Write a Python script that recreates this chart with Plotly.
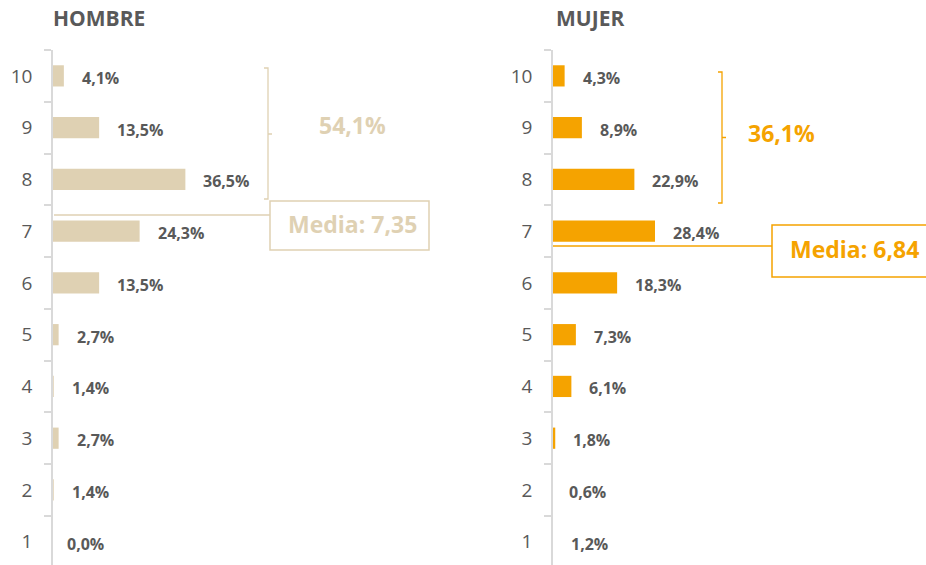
import plotly.graph_objects as go

W, H = 926, 565

categories = ["1", "2", "3", "4", "5", "6", "7", "8", "9", "10"]
hombre = [0.0, 1.4, 2.7, 1.4, 2.7, 13.5, 24.3, 36.5, 13.5, 4.1]
mujer = [1.2, 0.6, 1.8, 6.1, 7.3, 18.3, 28.4, 22.9, 8.9, 4.3]
panel_titles = ["HOMBRE", "MUJER"]
top_share = ["54,1%", "36,1%"]
media_labels = ["Media: 7,35", "Media: 6,84"]

BEIGE = "#DFD1B3"
ORANGE = "#F5A300"
GREY = "#595959"
AXIS = "#D9D9D9"
FONT = "Open Sans"

XMIN = 1.2
PX_PER_UNIT = 3.75
LABEL_GAP = 16


def px(x):
    return x / W


def py(y):
    return 1 - y / H


def fmt(v):
    return f"{v:.1f}".replace(".", ",") + "%"


fig = go.Figure()

panels = [
    dict(vals=hombre, color=BEIGE, xa="x", ya="y"),
    dict(vals=mujer, color=ORANGE, xa="x2", ya="y2"),
]

for p in panels:
    fig.add_trace(go.Bar(
        x=p["vals"], y=categories, orientation="h",
        marker=dict(color=p["color"], line=dict(width=0)),
        width=0.41, xaxis=p["xa"], yaxis=p["ya"], hoverinfo="skip",
        showlegend=False,
    ))
    for i, v in enumerate(p["vals"]):
        # values below the axis start are anchored at the axis start and shifted
        anchor = max(v, XMIN)
        shift = LABEL_GAP + (v - anchor) * PX_PER_UNIT
        fig.add_annotation(
            x=anchor, y=i, xref=p["xa"], yref=p["ya"], text=fmt(v),
            xanchor="left", yanchor="middle", xshift=shift, yshift=-2,
            showarrow=False,
            font=dict(family=FONT, size=16, color=GREY, weight="bold"),
        )

yax = dict(
    type="category", categoryorder="array", categoryarray=categories,
    range=[-0.45, 9.5], domain=[0, 1 - 50 / H], automargin=False,
    showline=True, linecolor=AXIS, linewidth=1.5,
    ticks="outside", tickson="boundaries", ticklen=7, tickcolor=AXIS, tickwidth=1.5,
    showgrid=False, zeroline=False, ticklabelstandoff=15,
    tickfont=dict(family=FONT, size=19, color=GREY), fixedrange=True,
)

fig.update_layout(
    width=W, height=H,
    margin=dict(l=0, r=0, t=0, b=0),
    paper_bgcolor="white", plot_bgcolor="white",
    xaxis=dict(domain=[px(53), px(460)], range=[XMIN, XMIN + (460 - 53) / PX_PER_UNIT],
               visible=False, fixedrange=True),
    xaxis2=dict(domain=[px(553), px(926)], range=[XMIN, XMIN + (926 - 553) / PX_PER_UNIT],
                visible=False, fixedrange=True),
    yaxis=dict(yax, anchor="x"),
    yaxis2=dict(yax, anchor="x2"),
)

# panel titles
for t, x in zip(panel_titles, [51, 554]):
    fig.add_annotation(
        x=px(x), y=py(18), xref="paper", yref="paper", text=t,
        xanchor="left", yanchor="middle", showarrow=False,
        font=dict(family=FONT, size=21, color=GREY, weight="bold"),
    )

# brackets
brackets = [
    dict(x=268, y0=68, y1=199, ym=134, color=BEIGE, tx=352, ty=125),
    dict(x=722, y0=72, y1=203, ym=137.5, color=ORANGE, tx=781, ty=133),
]
for b, lab in zip(brackets, top_share):
    path = (f"M {px(b['x'] - 4)},{py(b['y0'])} L {px(b['x'])},{py(b['y0'])} "
            f"L {px(b['x'])},{py(b['y1'])} L {px(b['x'] - 4)},{py(b['y1'])} "
            f"M {px(b['x'])},{py(b['ym'])} L {px(b['x'] + 4)},{py(b['ym'])}")
    fig.add_shape(type="path", path=path, xref="paper", yref="paper",
                  line=dict(color=b["color"], width=1.3))
    fig.add_annotation(
        x=px(b["tx"]), y=py(b["ty"]), xref="paper", yref="paper", text=lab,
        xanchor="center", yanchor="middle", showarrow=False,
        font=dict(family=FONT, size=23, color=b["color"], weight="bold"),
    )

# mean lines and boxes
means = [
    dict(lx0=54, lx1=270, ly=215, bx0=270, bx1=429, by0=201, by1=250, color=BEIGE, tx=352, ty=224),
    dict(lx0=553, lx1=772, ly=246, bx0=772, bx1=940, by0=225, by1=277, color=ORANGE, tx=854, ty=249),
]
for m, lab in zip(means, media_labels):
    fig.add_shape(type="line", xref="paper", yref="paper",
                  x0=px(m["lx0"]), x1=px(m["lx1"]), y0=py(m["ly"]), y1=py(m["ly"]),
                  line=dict(color=m["color"], width=1.3))
    fig.add_shape(type="rect", xref="paper", yref="paper",
                  x0=px(m["bx0"]), x1=px(m["bx1"]), y0=py(m["by0"]), y1=py(m["by1"]),
                  line=dict(color=m["color"], width=1.5), fillcolor="white")
    fig.add_annotation(
        x=px(m["tx"]), y=py(m["ty"]), xref="paper", yref="paper", text=lab,
        xanchor="center", yanchor="middle", showarrow=False,
        font=dict(family=FONT, size=23, color=m["color"], weight="bold"),
    )

fig.write_html("out.html", config=dict(displayModeBar=False))

# remove the browser's default page margin so the figure sits at (0, 0)
with open("out.html", "r", encoding="utf-8") as f:
    html = f.read()
html = html.replace("<head>", "<head><style>html,body{margin:0;padding:0;overflow:hidden;}</style>", 1)
with open("out.html", "w", encoding="utf-8") as f:
    f.write(html)
